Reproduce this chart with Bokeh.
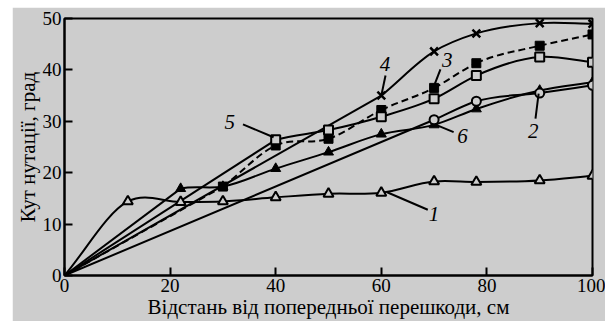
import numpy as np
from bokeh.plotting import figure
from bokeh.models import FixedTicker, Range1d, ColumnDataSource
from bokeh.core.properties import value
from bokeh.embed import file_html
from bokeh.resources import INLINE

# ---- data ----
x_ticks = [0, 20, 40, 60, 80, 100]
y_ticks = [0, 10, 20, 30, 40, 50]

c1_x = [0, 12, 22, 30, 40, 50, 60, 70, 78, 90, 100]
c1_y = [0, 14.4, 14.3, 14.4, 15.2, 15.9, 16.1, 18.3, 18.2, 18.5, 19.4]
c2_x = [0, 22, 30, 40, 50, 60, 70, 78, 90, 100]
c2_y = [0, 16.9, 17.3, 20.8, 24.0, 27.5, 29.3, 32.4, 36.0, 37.6]
c3_x = [0, 30, 40, 50, 60, 70, 78, 90, 100]
c3_y = [0, 17.3, 25.3, 26.6, 32.2, 36.5, 41.3, 44.7, 46.9]
c4_x = [0, 60, 70, 78, 90, 100]
c4_y = [0, 35.0, 43.6, 47.1, 49.1, 49.0]
c5_x = [0, 40, 50, 60, 70, 78, 90, 100]
c5_y = [0, 26.4, 28.3, 30.9, 34.4, 38.9, 42.5, 41.5]
c6_x = [0, 70, 78, 90, 100]
c6_y = [0, 30.3, 33.9, 35.5, 37.0]

lbl_text = ["1", "2", "3", "4", "5", "6"]
lbl_x = [70.0, 88.8, 72.5, 60.7, 31.3, 75.4]
lbl_y = [12.0, 28.2, 42.0, 41.2, 29.8, 27.2]
ptr_x0 = [68.8, 89.2, 71.2, 60.8, 33.8, 73.7]
ptr_y0 = [12.8, 30.5, 40.1, 38.9, 29.4, 27.9]
ptr_x1 = [61.1, 89.8, 70.1, 60.0, 39.6, 70.6]
ptr_y1 = [16.2, 35.4, 37.2, 35.0, 26.9, 29.2]

BG = "#cdcdcd"
SERIF = "Liberation Serif"


def smooth_segments(xs, ys, straight_first):
    xs = np.asarray(xs, float)
    ys = np.asarray(ys, float)
    h = np.diff(xs)
    d = np.diff(ys) / h
    n = len(xs)
    m = np.empty(n)
    m[0] = d[0]
    m[-1] = d[-1]
    for i in range(1, n - 1):
        m[i] = (d[i - 1] * h[i] + d[i] * h[i - 1]) / (h[i - 1] + h[i])
    x0, x1, y0, y1 = xs[:-1], xs[1:], ys[:-1], ys[1:]
    cx0 = x0 + h / 3
    cy0 = y0 + m[:-1] * h / 3
    cx1 = x1 - h / 3
    cy1 = y1 - m[1:] * h / 3
    if straight_first:
        cy0[0] = y0[0] + d[0] * h[0] / 3
        cy1[0] = y1[0] - d[0] * h[0] / 3
    return ColumnDataSource(dict(x0=x0, y0=y0, x1=x1, y1=y1,
                                 cx0=cx0, cy0=cy0, cx1=cx1, cy1=cy1))


p = figure(width=593, height=314, output_backend="svg", toolbar_location=None,
           x_range=Range1d(0, 100), y_range=Range1d(0, 50),
           min_border_left=52, min_border_right=13, min_border_top=11,
           min_border_bottom=46, margin=(7, 0, 0, 12))
p.background_fill_color = BG
p.border_fill_color = BG
p.outline_line_color = "black"
p.outline_line_width = 2
p.grid.visible = False

for ax in (p.xaxis[0], p.yaxis[0]):
    ax.axis_line_width = 2
    ax.axis_line_color = "black"
    ax.major_tick_in = 8
    ax.major_tick_out = 0
    ax.major_tick_line_width = 2
    ax.minor_tick_line_color = None
    ax.major_label_text_font = SERIF
    ax.major_label_text_font_size = "19px"
    ax.major_label_text_color = "black"
    ax.axis_label_text_font = SERIF
    ax.axis_label_text_font_size = "21px"
    ax.axis_label_text_font_style = "normal"
    ax.axis_label_text_color = "black"
    ax.axis_label_standoff = 0

p.xaxis.ticker = FixedTicker(ticks=x_ticks)
p.yaxis.ticker = FixedTicker(ticks=y_ticks)
p.xaxis.major_label_standoff = 3
p.yaxis.major_label_standoff = 3
p.xaxis.axis_label = "Відстань від попередньої перешкоди, см"
p.yaxis.axis_label = "Кут нутації, град"

curves = [
    (c1_x, c1_y, False, "solid"),
    (c2_x, c2_y, True, "solid"),
    (c6_x, c6_y, True, "solid"),
    (c5_x, c5_y, True, "solid"),
    (c3_x, c3_y, True, "7 4"),
    (c4_x, c4_y, True, "solid"),
]
for xs, ys, sf, dash in curves:
    src = smooth_segments(xs, ys, sf)
    p.bezier(x0="x0", y0="y0", x1="x1", y1="y1", cx0="cx0", cy0="cy0",
             cx1="cx1", cy1="cy1", source=src, line_color="black",
             line_width=2, line_dash=dash)

# markers
p.scatter(c1_x[1:], c1_y[1:], marker="triangle", size=10, fill_color=BG,
          line_color="black", line_width=2)
p.scatter(c2_x[1:], c2_y[1:], marker="triangle", size=10, fill_color="black",
          line_color="black", line_width=1)
p.scatter(c6_x[1:], c6_y[1:], marker="circle", size=9, fill_color=BG,
          line_color="black", line_width=2)
p.scatter(c3_x[1:], c3_y[1:], marker="square", size=9, fill_color="black",
          line_color="black", line_width=1)
p.scatter(c5_x[1:], c5_y[1:], marker="square", size=9, fill_color=BG,
          line_color="black", line_width=2)
p.scatter(c4_x[1:], c4_y[1:], marker="x", size=11, line_color="black",
          line_width=2.5)

# labels with pointers
p.segment(x0=ptr_x0, y0=ptr_y0, x1=ptr_x1, y1=ptr_y1, line_color="black",
          line_width=2)
p.text(x=lbl_x, y=lbl_y, text=lbl_text, text_font=value(SERIF),
       text_font_style="italic", text_font_size="21px", text_color="black",
       text_align="center", text_baseline="middle")

open("out.html", "w").write(file_html(p, INLINE))
